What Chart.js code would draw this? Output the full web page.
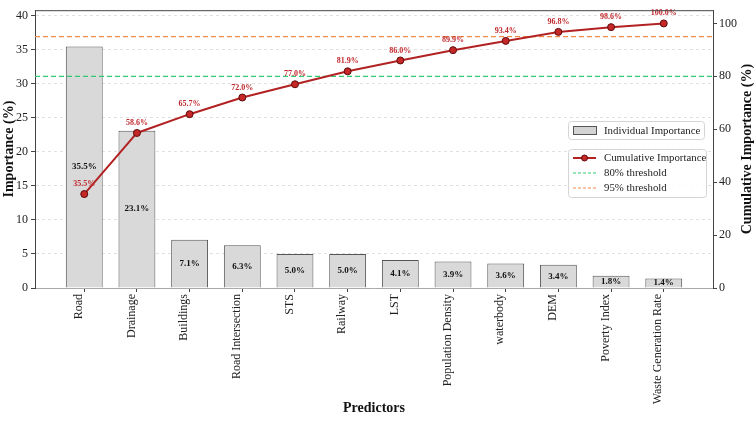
<!DOCTYPE html>
<html>
<head>
<meta charset="utf-8">
<script src="https://cdn.jsdelivr.net/npm/chart.js@4/dist/chart.umd.min.js"></script>
<style>
html,body{margin:0;padding:0;background:#fff;}
canvas{display:block;}
</style>
</head>
<body>
<canvas id="c" width="755" height="421"></canvas>
<script>
const categories = ['Road','Drainage','Buildings','Road Intersection','STS','Railway','LST','Population Density','waterbody','DEM','Poverty Index','Waste Generation Rate'];
const importance = [35.5,23.1,7.1,6.3,5.0,5.0,4.1,3.9,3.6,3.4,1.8,1.4];
const cumulative = [35.5,58.6,65.7,72.0,77.0,81.9,86.0,89.9,93.4,96.8,98.6,100.0];
const thresholds = [80,95];
const leftTicksStep = 5;
const rightTicksStep = 20;

const FONT = "'Liberation Serif', 'Times New Roman', serif";
const xMin = -0.935, xMax = categories.length - 1 + 0.935;

const barData = categories.map((c,i)=>({x:i, y:importance[i]}));
const cumData = categories.map((c,i)=>({x:i, y:cumulative[i]}));
const thrData = thresholds.map(t=>[{x:xMin,y:t},{x:xMax,y:t}]);

function roundRect(ctx,x,y,w,h,r){
  ctx.beginPath();
  ctx.moveTo(x+r,y);
  ctx.lineTo(x+w-r,y); ctx.arcTo(x+w,y,x+w,y+r,r);
  ctx.lineTo(x+w,y+h-r); ctx.arcTo(x+w,y+h,x+w-r,y+h,r);
  ctx.lineTo(x+r,y+h); ctx.arcTo(x,y+h,x,y+h-r,r);
  ctx.lineTo(x,y+r); ctx.arcTo(x,y,x+r,y,r);
  ctx.closePath();
}

const labelsPlugin = {
  id:'labels',
  afterDatasetsDraw(chart){
    const ctx = chart.ctx;
    ctx.save();
    const barMeta = chart.getDatasetMeta(0);
    ctx.font = "bold 9px " + FONT;
    ctx.fillStyle = '#111';
    ctx.textAlign = 'center';
    ctx.textBaseline = 'middle';
    barMeta.data.forEach((el,i)=>{
      const yc = (el.y + el.base)/2;
      ctx.fillText(importance[i].toFixed(1)+'%', el.x, yc);
    });
    const cMeta = chart.getDatasetMeta(3);
    ctx.font = "bold 8px " + FONT;
    ctx.fillStyle = '#c0282d';
    cMeta.data.forEach((el,i)=>{
      ctx.fillText(cumulative[i].toFixed(1)+'%', el.x, el.y - 10);
    });
    ctx.restore();
  },
  afterDraw(chart){
    const ctx = chart.ctx;
    const a = chart.chartArea;
    ctx.save();
    ctx.strokeStyle = '#444';
    ctx.lineWidth = 1;
    ctx.beginPath(); ctx.moveTo(a.left, a.top+0.5); ctx.lineTo(a.right, a.top+0.5); ctx.stroke();
    // right axis title (reads bottom-to-top)
    ctx.save();
    ctx.translate(747, (a.top + a.bottom)/2);
    ctx.rotate(-Math.PI/2);
    ctx.font = "bold 14px " + FONT;
    ctx.fillStyle = '#111';
    ctx.textAlign = 'center';
    ctx.textBaseline = 'middle';
    ctx.fillText('Cumulative Importance (%)', 0, 0);
    ctx.restore();
    // legend box 1
    ctx.font = "10.8px " + FONT;
    ctx.textBaseline = 'middle';
    ctx.textAlign = 'left';
    ctx.fillStyle = 'rgba(255,255,255,0.85)';
    roundRect(ctx,568.5,121.5,136,18,3); ctx.fill();
    ctx.strokeStyle = '#d5d5d5'; ctx.stroke();
    ctx.fillStyle = '#d3d3d3';
    ctx.fillRect(573.5,126.5,23,8);
    ctx.strokeStyle = '#555'; ctx.strokeRect(573.5,126.5,23,8);
    ctx.fillStyle = '#222';
    ctx.fillText('Individual Importance', 604, 131);
    // legend box 2
    ctx.fillStyle = 'rgba(255,255,255,0.85)';
    roundRect(ctx,568.5,149.5,138,48,3); ctx.fill();
    ctx.strokeStyle = '#d5d5d5'; ctx.stroke();
    ctx.strokeStyle = '#b22222'; ctx.lineWidth = 2;
    ctx.beginPath(); ctx.moveTo(573,158); ctx.lineTo(596,158); ctx.stroke();
    ctx.fillStyle = '#c62828'; ctx.strokeStyle = '#5c0a0a'; ctx.lineWidth = 1;
    ctx.beginPath(); ctx.arc(584.5,158,3,0,Math.PI*2); ctx.fill(); ctx.stroke();
    ctx.lineWidth = 1.2;
    ctx.setLineDash([3,2]);
    ctx.strokeStyle = '#2ecc71';
    ctx.beginPath(); ctx.moveTo(573,173); ctx.lineTo(596,173); ctx.stroke();
    ctx.strokeStyle = '#f08a4b';
    ctx.beginPath(); ctx.moveTo(573,188); ctx.lineTo(596,188); ctx.stroke();
    ctx.setLineDash([]);
    ctx.fillStyle = '#222';
    ctx.fillText('Cumulative Importance', 604, 158);
    ctx.fillText('80% threshold', 604, 173);
    ctx.fillText('95% threshold', 604, 188);
    ctx.restore();
  }
};

new Chart(document.getElementById('c'), {
  data: {
    datasets: [
      { type:'bar', label:'Individual Importance', data:barData, xAxisID:'x', yAxisID:'y',
        backgroundColor:'#d9d9d9', borderColor:'#555', borderWidth:1,
        barPercentage:0.7, categoryPercentage:1.0, order:4 },
      { type:'line', label:'80% threshold', data:thrData[0], xAxisID:'x', yAxisID:'y1',
        borderColor:'#2ecc71', borderWidth:1.2, borderDash:[5,3], pointRadius:0, order:2 },
      { type:'line', label:'95% threshold', data:thrData[1], xAxisID:'x', yAxisID:'y1',
        borderColor:'#f08a4b', borderWidth:1.2, borderDash:[5,3], pointRadius:0, order:3 },
      { type:'line', label:'Cumulative Importance', data:cumData, xAxisID:'x', yAxisID:'y1',
        borderColor:'#b22222', borderWidth:2, pointRadius:3.5, pointBackgroundColor:'#c62828',
        pointBorderColor:'#5c0a0a', pointBorderWidth:1, order:1 }
    ]
  },
  options: {
    responsive:false,
    devicePixelRatio:1,
    animation:false,
    layout:{padding:{top:3,left:0,right:0,bottom:0}},
    plugins:{legend:{display:false}, tooltip:{enabled:false}},
    scales:{
      x:{
        type:'linear', position:'bottom', min:xMin, max:xMax, offset:false,
        afterFit(s){ s.height = 133; },
        ticks:{ stepSize:1, includeBounds:false, autoSkip:false, maxRotation:90, minRotation:90, padding:2,
          labelOffset:-5.5,
          font:{family:FONT, size:12}, color:'#222',
          callback:(v)=> Number.isInteger(v) && categories[v] !== undefined ? categories[v] : null },
        grid:{ offset:false, drawOnChartArea:false, drawTicks:true, tickLength:4, color:'#444', tickColor:'#444' },
        border:{ color:'#aaa', width:1 },
        title:{ display:true, text:'Predictors', font:{family:FONT, size:14, weight:'bold'}, color:'#111', padding:{top:4,bottom:4} }
      },
      y:{
        type:'linear', position:'left', min:0, max:40.825,
        afterFit(s){ s.width = 35; },
        ticks:{ stepSize:leftTicksStep, includeBounds:false, padding:3, font:{family:FONT, size:12}, color:'#222' },
        grid:{ color:'rgba(200,200,200,0.55)', lineWidth:1, tickLength:4, tickColor:'#444', tickBorderDash:[] },
        border:{ color:'#444', width:1, dash:[3,3] },
        title:{ display:true, text:'Importance (%)', font:{family:FONT, size:14, weight:'bold'}, color:'#111', padding:{top:1,bottom:0} }
      },
      y1:{
        type:'linear', position:'right', min:0, max:105,
        afterFit(s){ s.width = 42; },
        ticks:{ stepSize:rightTicksStep, includeBounds:false, padding:2, font:{family:FONT, size:12}, color:'#222' },
        grid:{ drawOnChartArea:false, tickLength:4, color:'#444', tickColor:'#444' },
        border:{ color:'#444', width:1 }
      }
    }
  },
  plugins:[labelsPlugin]
});
</script>
</body>
</html>
